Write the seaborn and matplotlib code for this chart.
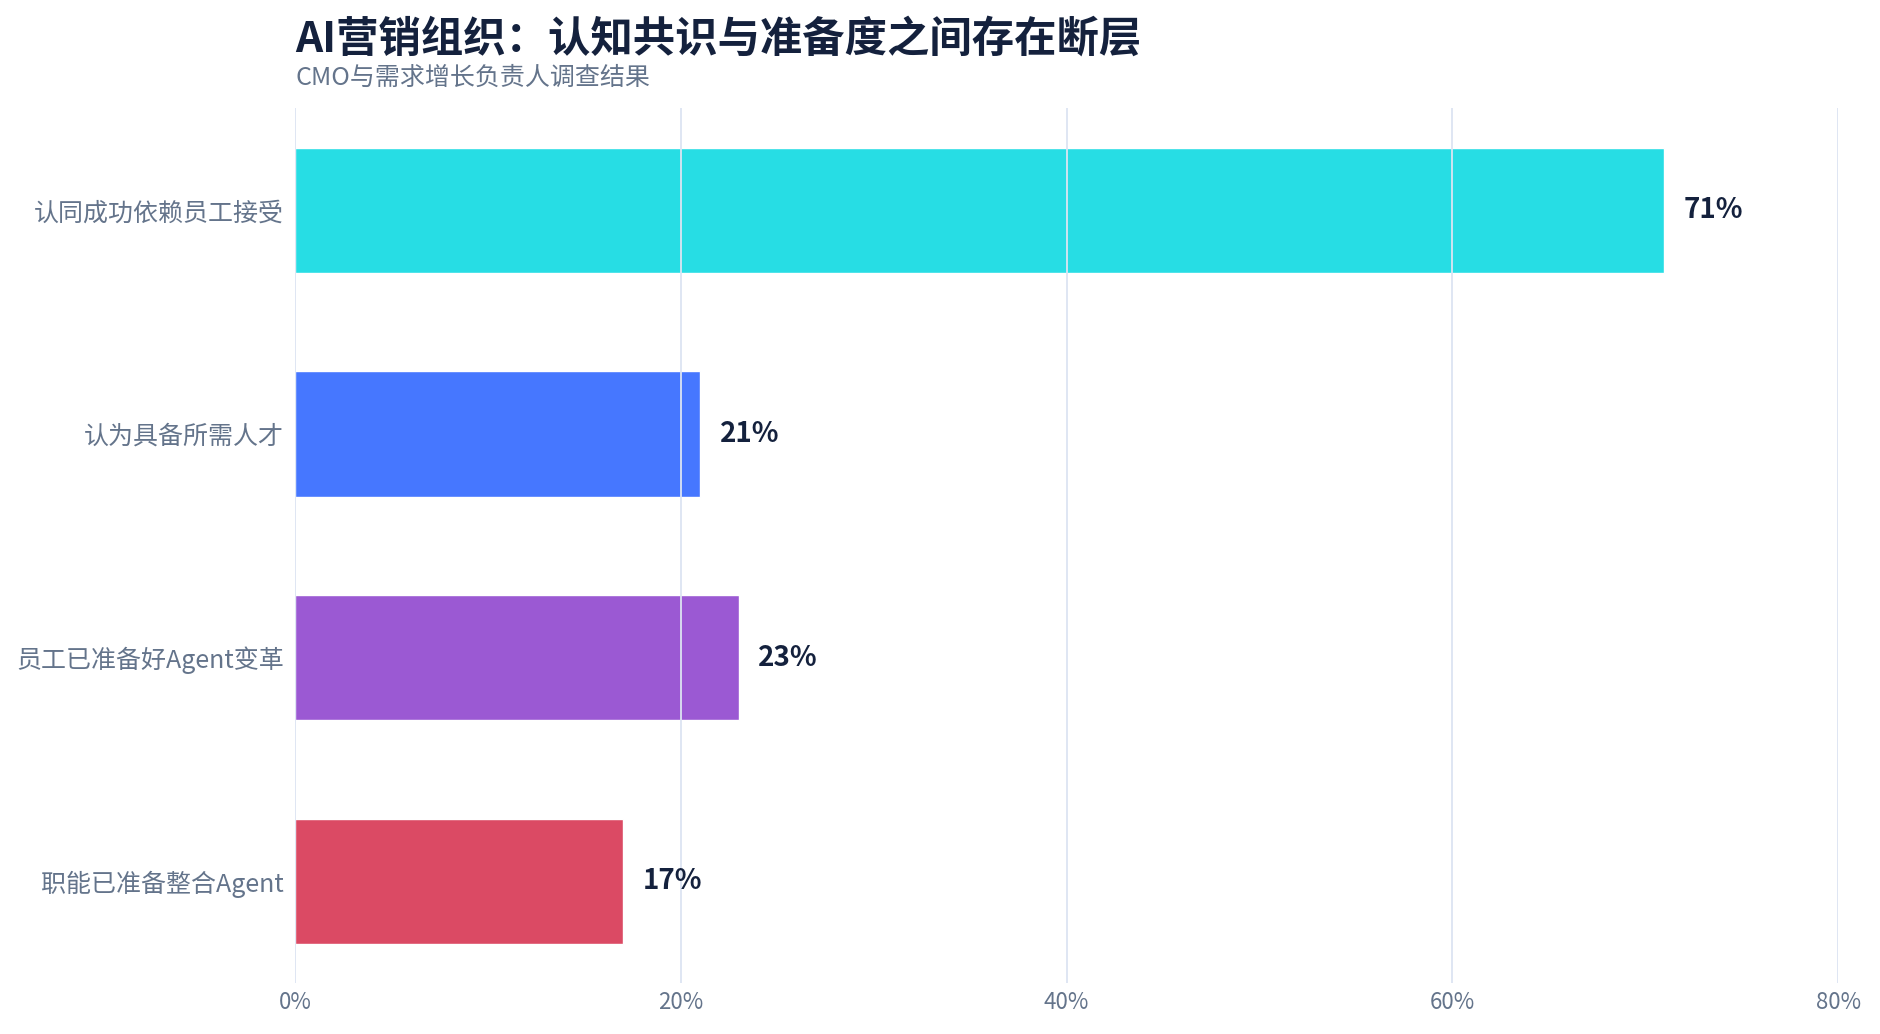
import matplotlib
matplotlib.use("Agg")
import matplotlib.pyplot as plt
import seaborn as sns
import pandas as pd
from matplotlib.ticker import FuncFormatter

categories = ["认同成功依赖员工接受", "认为具备所需人才", "员工已准备好Agent变革", "职能已准备整合Agent"]
values = [71, 21, 23, 17]
colors = ["#27DDE4", "#4677FF", "#9B59D3", "#DB4A64"]
xticks = [0, 20, 40, 60, 80]

title = "AI营销组织：认知共识与准备度之间存在断层"
subtitle = "CMO与需求增长负责人调查结果"

sns.set_theme(style="white")
plt.rcParams['font.family'] = ['Noto Sans CJK SC', 'DejaVu Sans']

df = pd.DataFrame({"cat": categories, "val": values})

fig = plt.figure(figsize=(18.8, 10.34), dpi=100)
ax = fig.add_axes([0.157, 0.0493, 0.8207, 0.8463])

sns.barplot(data=df, y="cat", x="val", hue="cat", palette=colors, order=categories,
            hue_order=categories, legend=False, width=0.56, orient="h", ax=ax,
            saturation=1)

ax.set_xlim(0, 80)
ax.set_ylim(3.455, -0.458)
ax.set_xticks(xticks)
ax.xaxis.set_major_formatter(FuncFormatter(lambda v, p: f"{v:.0f}%"))
ax.set_xlabel("")
ax.set_ylabel("")
ax.grid(axis="x", color="#DCE4F2", linewidth=1.3)
ax.grid(axis="y", visible=False)
ax.set_axisbelow(False)
for s in ax.spines.values():
    s.set_visible(False)
ax.tick_params(axis="x", length=0, labelsize=16, labelcolor="#64748B", pad=6)
ax.tick_params(axis="y", length=0, labelsize=18, labelcolor="#64748B", pad=8)

for c in ax.containers:
    ax.bar_label(c, labels=[f"{v:.0f}%" for v in c.datavalues], padding=14,
                 fontsize=20, fontweight="bold", color="#14213D")

fig.text(0.157, 0.962, title, fontsize=30.5, fontweight="bold", color="#14213D",
         ha="left", va="center")
fig.text(0.157, 0.925, subtitle, fontsize=18, color="#64748B", ha="left", va="center")

fig.savefig("out.png", dpi=100)
